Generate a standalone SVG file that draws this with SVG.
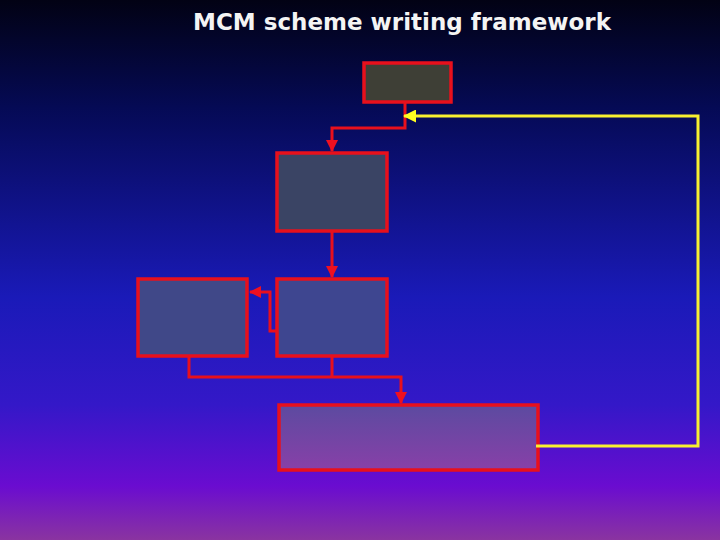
<svg xmlns="http://www.w3.org/2000/svg" width="720" height="540" viewBox="0 0 720 540">
<defs>
<linearGradient id="bg" x1="0" y1="0" x2="0" y2="1">
<stop offset="0" stop-color="#020214"/>
<stop offset="0.2" stop-color="#050a55"/>
<stop offset="0.55" stop-color="#1a1ab8"/>
<stop offset="0.75" stop-color="#3418c8"/>
<stop offset="0.9" stop-color="#6a0cd0"/>
<stop offset="1" stop-color="#8a34a0"/>
</linearGradient>
<linearGradient id="g5" x1="0" y1="0" x2="0" y2="1">
<stop offset="0" stop-color="#5c4aa0"/>
<stop offset="1" stop-color="#8840a8"/>
</linearGradient>
<marker id="ar" markerWidth="12" markerHeight="12" refX="11" refY="6" orient="auto" markerUnits="userSpaceOnUse">
<path d="M0,0 L12,6 L0,12 z" fill="#ee1020"/>
</marker>
<marker id="ay" markerWidth="13" markerHeight="13" refX="12" refY="6.5" orient="auto" markerUnits="userSpaceOnUse">
<path d="M0,0 L13,6.5 L0,13 z" fill="#ffff20"/>
</marker>
<style>
.box{stroke:#e8101c;stroke-width:3.5}
.red{fill:none;stroke:#e8101c;stroke-width:3}
.yel{fill:none;stroke:#f8f030;stroke-width:3}
.title{font-family:"DejaVu Sans",sans-serif;font-size:23px;font-weight:bold;fill:#f4f4f4}
</style>
</defs>
<rect width="720" height="540" fill="url(#bg)"/>
<text class="title" x="402" y="30" text-anchor="middle" textLength="418" lengthAdjust="spacingAndGlyphs">MCM scheme writing framework</text>
<g id="n1"><rect class="box" x="364" y="63" width="87" height="39" fill="#3e3f36"/></g>
<g id="n2"><rect class="box" x="277" y="153" width="110" height="78" fill="#3a4464"/></g>
<g id="n3"><rect class="box" x="138" y="279" width="109" height="77" fill="#404888"/></g>
<g id="n4"><rect class="box" x="277" y="279" width="110" height="77" fill="#3e4690"/></g>
<g id="n5"><rect class="box" x="279" y="405" width="259" height="65" fill="url(#g5)"/></g>
<g id="connectors">
<path class="red" d="M405,103 V128 H332 V151" marker-end="url(#ar)"/>
<path class="red" d="M332,232 V277" marker-end="url(#ar)"/>
<path class="red" d="M276,331 H270 V292 H250" marker-end="url(#ar)"/>
<path class="red" d="M189,357 V377 H401 V403" marker-end="url(#ar)"/>
<path class="red" d="M332,357 V377"/>
<path class="yel" d="M536,446 H698 V116 H404" marker-end="url(#ay)"/>
</g>
</svg>
